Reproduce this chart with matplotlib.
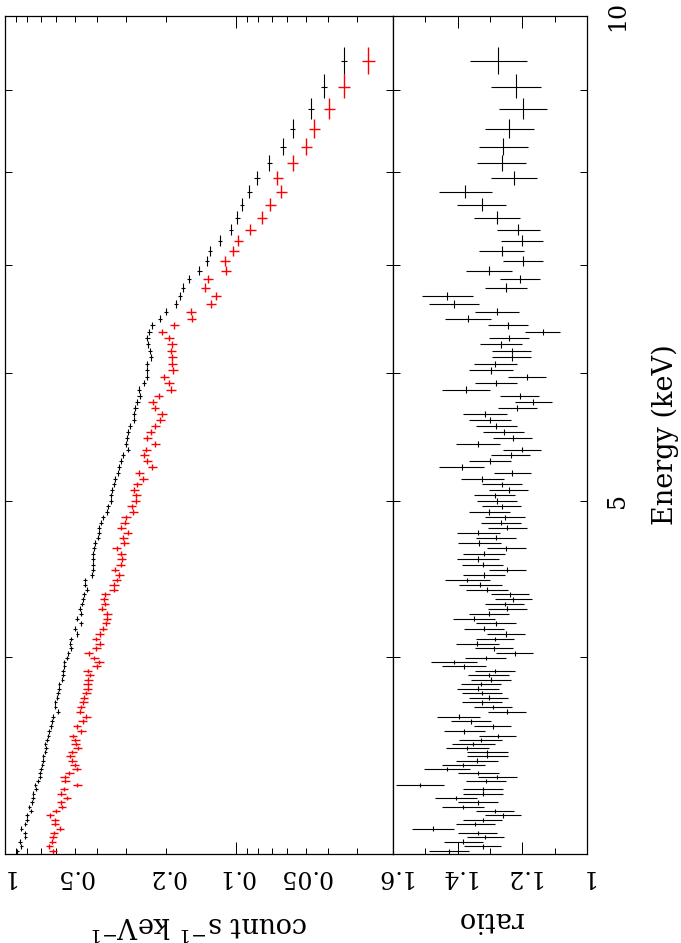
# Spectrum + ratio plot (XSPEC style), drawn turned on its side:
# energy runs up the page, count rate / ratio run across

import matplotlib.pyplot as plt
import numpy as np
from matplotlib.ticker import FixedLocator, NullLocator
from matplotlib.transforms import ScaledTranslation

plt.rcParams['font.family'] = 'DejaVu Serif'
plt.rcParams['mathtext.fontset'] = 'dejavuserif'

#------------------------------------------data-------------------------------------------------
# bin centres (keV), from high to low energy
energy = np.array([
    9.377, 9.034, 8.754, 8.507, 8.291, 8.103, 7.932, 7.775,
    7.632, 7.494, 7.363, 7.249, 7.146, 7.047, 6.947, 6.862, 6.780, 6.700,
    6.621, 6.549, 6.486, 6.425, 6.364, 6.307, 6.253, 6.193, 6.138, 6.080,
    6.025, 5.968, 5.915, 5.861, 5.811, 5.761, 5.712,
    5.661, 5.612, 5.564, 5.514, 5.470, 5.425, 5.379, 5.336, 5.291, 5.243,
    5.201, 5.159, 5.117, 5.078, 5.037, 4.999, 4.958, 4.919, 4.881, 4.844,
    4.810, 4.775, 4.741, 4.705, 4.669, 4.634, 4.599, 4.563, 4.529, 4.495,
    4.463, 4.433, 4.401, 4.372, 4.343, 4.312, 4.283, 4.253, 4.222, 4.194, 4.164,
    4.131, 4.102, 4.074, 4.047, 4.018, 3.993, 3.969, 3.944, 3.920, 3.896,
    3.869, 3.846, 3.820, 3.797, 3.771, 3.746, 3.722, 3.695, 3.670, 3.646,
    3.620, 3.596, 3.570, 3.548, 3.528, 3.508, 3.488, 3.468, 3.447, 3.427,
    3.407, 3.388, 3.368, 3.348, 3.329, 3.310, 3.287, 3.267, 3.247, 3.227,
    3.207, 3.187, 3.167, 3.148, 3.127, 3.109, 3.090, 3.069, 3.050, 3.029])

# black spectrum, count s^-1 keV^-1
black_rate = np.array([
    0.0341, 0.0416, 0.0473, 0.0568, 0.0626, 0.0718, 0.0811, 0.0876,
    0.0942, 0.0987, 0.1051, 0.1173, 0.1296, 0.1335, 0.1442, 0.1598, 0.1701, 0.1747,
    0.1818, 0.2009, 0.2133, 0.2303, 0.2373, 0.2421, 0.2404, 0.2356, 0.2333, 0.2428,
    0.2435, 0.2428, 0.2502, 0.2638, 0.2612, 0.2675, 0.2729,
    0.2756, 0.2764, 0.2868, 0.2943, 0.2973, 0.2985, 0.2943, 0.3094, 0.3156, 0.3200,
    0.3232, 0.3330, 0.3384, 0.3431, 0.3476, 0.3476, 0.3571, 0.3628, 0.3754, 0.3841,
    0.3918, 0.3930, 0.3946, 0.4065, 0.4106, 0.4147, 0.4172, 0.4172, 0.4159, 0.4214,
    0.4504, 0.4490, 0.4428, 0.4550, 0.4581, 0.4628, 0.4735, 0.4702, 0.4894, 0.4688, 0.4963,
    0.4864, 0.5176, 0.5212, 0.5176, 0.5321, 0.5406, 0.5537, 0.5537, 0.5626, 0.5609,
    0.5648, 0.5819, 0.5854, 0.5895, 0.5936, 0.6055, 0.6055, 0.5912, 0.6214, 0.6276,
    0.6321, 0.6449, 0.6495, 0.6600, 0.6692, 0.6646, 0.6692, 0.6827, 0.6847, 0.6895,
    0.7006, 0.7055, 0.7055, 0.7196, 0.7393, 0.7342, 0.7541, 0.7586, 0.7662, 0.7847,
    0.7738, 0.8054, 0.8029, 0.8168, 0.8500, 0.8193, 0.8168, 0.8612, 0.8500, 0.8847])

# ratio black / red and its error
ratio = np.array([
    1.274, 1.220, 1.199, 1.240, 1.259, 1.264, 1.226, 1.377,
    1.325, 1.279, 1.212, 1.201, 1.264, 1.198, 1.303, 1.207, 1.251, 1.432,
    1.411, 1.277, 1.369, 1.244, 1.137, 1.241, 1.266, 1.233, 1.233, 1.284,
    1.297, 1.186, 1.281, 1.374, 1.208, 1.166, 1.216,
    1.315, 1.300, 1.281, 1.258, 1.230, 1.338, 1.201, 1.236, 1.301, 1.388,
    1.231, 1.324, 1.264, 1.242, 1.285, 1.278, 1.264, 1.302, 1.254, 1.266,
    1.246, 1.336, 1.281, 1.333, 1.250, 1.318, 1.337, 1.323, 1.246, 1.318,
    1.370, 1.330, 1.308, 1.238, 1.228, 1.254, 1.246, 1.303, 1.350, 1.281, 1.319,
    1.251, 1.284, 1.339, 1.287, 1.224, 1.313, 1.410, 1.379, 1.284, 1.304,
    1.298, 1.328, 1.336, 1.325, 1.304, 1.324, 1.290, 1.248, 1.397, 1.359,
    1.292, 1.380, 1.276, 1.329, 1.352, 1.370, 1.308, 1.308, 1.341, 1.382,
    1.432, 1.336, 1.278, 1.312, 1.516, 1.321, 1.323, 1.405, 1.337, 1.384,
    1.284, 1.259, 1.323, 1.345, 1.475, 1.338, 1.314, 1.382, 1.323, 1.428])

ratio_err = np.array([
    0.088, 0.078, 0.074, 0.076, 0.076, 0.076, 0.070, 0.082,
    0.076, 0.072, 0.067, 0.065, 0.069, 0.063, 0.072, 0.062, 0.065, 0.078,
    0.077, 0.068, 0.071, 0.063, 0.055, 0.063, 0.066, 0.061, 0.061, 0.066,
    0.067, 0.058, 0.065, 0.073, 0.061, 0.057, 0.060,
    0.067, 0.065, 0.063, 0.063, 0.061, 0.068, 0.058, 0.061, 0.065, 0.070,
    0.058, 0.067, 0.062, 0.061, 0.063, 0.063, 0.061, 0.063, 0.063, 0.063,
    0.061, 0.067, 0.062, 0.066, 0.060, 0.065, 0.065, 0.064, 0.058, 0.064,
    0.070, 0.066, 0.065, 0.059, 0.058, 0.060, 0.059, 0.063, 0.064, 0.061, 0.061,
    0.059, 0.058, 0.067, 0.058, 0.058, 0.064, 0.071, 0.068, 0.061, 0.063,
    0.062, 0.063, 0.065, 0.062, 0.061, 0.062, 0.059, 0.058, 0.066, 0.062,
    0.058, 0.063, 0.057, 0.066, 0.067, 0.067, 0.064, 0.064, 0.065, 0.067,
    0.071, 0.064, 0.060, 0.062, 0.074, 0.062, 0.062, 0.065, 0.061, 0.064,
    0.058, 0.056, 0.059, 0.061, 0.065, 0.060, 0.057, 0.060, 0.056, 0.062])

# fractional error of the black spectrum (read per stretch of bins)
black_frac_err = np.array([0.027] * 8 + [0.022] * 27 + [0.020] * 41 + [0.018] * 50)

# outer edges of the first and last bins
e_top = 9.566
e_bottom = 3.016

# red spectrum follows from the ratio panel (ratio = black / red)
red_rate = black_rate / ratio
red_frac_err = np.sqrt((ratio_err / ratio) ** 2 - black_frac_err ** 2)

edges = np.sqrt(energy[:-1] * energy[1:])
e_hi = np.concatenate([[e_top], edges])
e_lo = np.concatenate([edges, [e_bottom]])
e_bars = [energy - e_lo, e_hi - energy]

rate_major = [1.0, 0.1]
rate_major_labels = ['1', '0.1']
rate_minor = [0.9, 0.8, 0.7, 0.6, 0.5, 0.4, 0.3, 0.2,
              0.09, 0.08, 0.07, 0.06, 0.05, 0.04, 0.03]
rate_minor_labels = ['', '', '', '', '0.5', '', '', '0.2',
                     '', '', '', '', '0.05', '', '']
ratio_major = [1.6, 1.4, 1.2, 1.0]
ratio_major_labels = ['1.6', '1.4', '1.2', '1']
ratio_minor = [1.5, 1.3, 1.1]
energy_ticks = [4, 5, 6, 7, 8, 9, 10]
energy_labels = ['', '5', '', '', '', '', '10']

#------------------------------------------plot-------------------------------------------------
W, H = 681, 943
fig = plt.figure(figsize=(W / 100, H / 100), dpi=100)
ax1 = fig.add_axes([5 / W, 1 - 854 / H, 388 / W, 838 / H])
ax2 = fig.add_axes([393 / W, 1 - 854 / H, 194 / W, 838 / H])

ax1.errorbar(red_rate, energy, xerr=red_rate * red_frac_err, yerr=e_bars,
             fmt='none', ecolor='red', elinewidth=1.0)
ax1.errorbar(black_rate, energy, xerr=black_rate * black_frac_err, yerr=e_bars,
             fmt='none', ecolor='black', elinewidth=0.8)
ax2.errorbar(ratio, energy, xerr=ratio_err, yerr=e_bars,
             fmt='none', ecolor='black', elinewidth=0.8)

ax1.set_xscale('log')
ax1.set_xlim(1.0, 0.02091)
ax1.set_xticks(rate_major, rate_major_labels)
ax1.set_xticks(rate_minor, rate_minor_labels, minor=True)

ax2.set_xlim(1.6, 1.0)
ax2.set_xticks(ratio_major, ratio_major_labels)
ax2.set_xticks(ratio_minor, [''] * len(ratio_minor), minor=True)

for ax in (ax1, ax2):
    ax.set_yscale('log')
    ax.set_ylim(e_bottom, 10)
    ax.yaxis.set_major_locator(FixedLocator(energy_ticks))
    ax.yaxis.set_minor_locator(NullLocator())
    ax.tick_params(axis='x', which='both', direction='in', top=True, bottom=True,
                   labelrotation=180, labelsize=17, pad=8, width=0.72)
    ax.tick_params(axis='x', which='major', length=8.6)
    ax.tick_params(axis='x', which='minor', length=4.3)
    ax.tick_params(axis='y', which='both', direction='in', left=True, right=True,
                   labelleft=False, length=5, width=0.72)
    for s in ax.spines.values():
        s.set_linewidth(0.9)

# the "1" at the far left sits against the figure edge, nudge it in a little
first = ax1.xaxis.get_major_ticks()[0].label1
first.set_transform(first.get_transform() + ScaledTranslation(3 / 100, 0, fig.dpi_scale_trans))

ax1.tick_params(axis='y', labelright=False)
ax2.set_yticks(energy_ticks, energy_labels)
ax2.tick_params(axis='y', labelright=True, labelrotation=90, labelsize=17, pad=14)
for lbl in ax2.get_yticklabels():
    lbl.set_va('center')

fig.text(199 / W, 1 - 925 / H, 'count s$^{-1}$ keV$^{-1}$', rotation=180,
         ha='center', va='center', fontsize=19.5)
fig.text(490 / W, 1 - 920 / H, 'ratio', rotation=180,
         ha='center', va='center', fontsize=19.5)
fig.text(665 / W, 1 - 435 / H, 'Energy (keV)', rotation=90,
         ha='center', va='center', fontsize=19.5)

fig.savefig('out.png', dpi=100)
